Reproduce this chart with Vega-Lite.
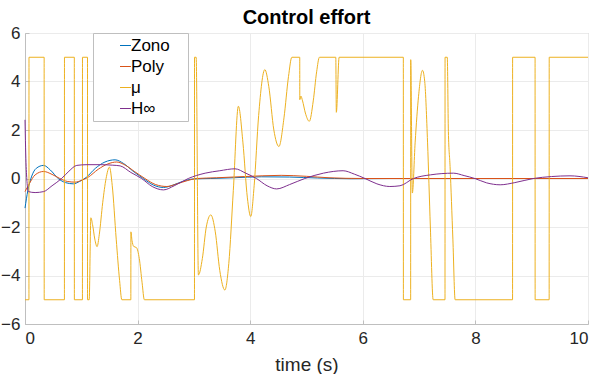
{
  "$schema": "https://vega.github.io/schema/vega-lite/v6.json",
  "width": 563,
  "height": 291,
  "autosize": {"type": "none"},
  "padding": {"left": 25, "top": 33, "right": 11, "bottom": 50},
  "background": "white",
  "title": {"text": "Control effort", "fontSize": 20, "font": "Liberation Sans", "fontWeight": "bold", "color": "#000000", "offset": -4},
  "config": {
    "font": "Liberation Sans",
    "view": {"stroke": "#BFBFBF", "strokeWidth": 1},
    "axis": {"labelFont": "Liberation Sans", "titleFont": "Liberation Sans", "labelColor": "#262626", "titleColor": "#262626", "domainColor": "#BFBFBF", "tickColor": "#BFBFBF", "gridColor": "#EBEBEB", "gridWidth": 1, "labelFontSize": 17, "titleFontSize": 19, "titleFontWeight": "normal", "tickSize": -4}
  },
  "data": {"values": [
    {"t":0,"u":-1.22,"s":"Zono"},{"t":0.05,"u":-0.5,"s":"Zono"},{"t":0.12,"u":0.1,"s":"Zono"},{"t":0.2,"u":0.42,"s":"Zono"},{"t":0.33,"u":0.54,"s":"Zono"},{"t":0.45,"u":0.35,"s":"Zono"},{"t":0.59,"u":0,"s":"Zono"},{"t":0.72,"u":-0.17,"s":"Zono"},{"t":0.86,"u":-0.22,"s":"Zono"},{"t":0.97,"u":-0.12,"s":"Zono"},{"t":1.09,"u":0.05,"s":"Zono"},{"t":1.25,"u":0.42,"s":"Zono"},{"t":1.42,"u":0.68,"s":"Zono"},{"t":1.6,"u":0.77,"s":"Zono"},{"t":1.75,"u":0.62,"s":"Zono"},{"t":1.92,"u":0.3,"s":"Zono"},{"t":2.1,"u":0,"s":"Zono"},{"t":2.28,"u":-0.27,"s":"Zono"},{"t":2.46,"u":-0.37,"s":"Zono"},{"t":2.62,"u":-0.28,"s":"Zono"},{"t":2.8,"u":-0.12,"s":"Zono"},{"t":2.99,"u":-0.02,"s":"Zono"},{"t":3.3,"u":0,"s":"Zono"},{"t":3.7,"u":0.03,"s":"Zono"},{"t":4.2,"u":0.07,"s":"Zono"},{"t":4.7,"u":0.06,"s":"Zono"},{"t":5.2,"u":0.02,"s":"Zono"},{"t":5.8,"u":-0.01,"s":"Zono"},{"t":6.5,"u":0,"s":"Zono"},{"t":8,"u":0,"s":"Zono"},{"t":10,"u":0,"s":"Zono"},
    {"t":0,"u":-0.54,"s":"Poly"},{"t":0.08,"u":-0.2,"s":"Poly"},{"t":0.18,"u":0.15,"s":"Poly"},{"t":0.33,"u":0.29,"s":"Poly"},{"t":0.48,"u":0.17,"s":"Poly"},{"t":0.62,"u":0,"s":"Poly"},{"t":0.75,"u":-0.12,"s":"Poly"},{"t":0.89,"u":-0.15,"s":"Poly"},{"t":1.0,"u":-0.08,"s":"Poly"},{"t":1.12,"u":0.05,"s":"Poly"},{"t":1.3,"u":0.38,"s":"Poly"},{"t":1.47,"u":0.6,"s":"Poly"},{"t":1.63,"u":0.68,"s":"Poly"},{"t":1.78,"u":0.55,"s":"Poly"},{"t":1.95,"u":0.28,"s":"Poly"},{"t":2.13,"u":0,"s":"Poly"},{"t":2.32,"u":-0.25,"s":"Poly"},{"t":2.52,"u":-0.33,"s":"Poly"},{"t":2.7,"u":-0.22,"s":"Poly"},{"t":2.88,"u":-0.09,"s":"Poly"},{"t":3.05,"u":0,"s":"Poly"},{"t":3.4,"u":0.03,"s":"Poly"},{"t":3.9,"u":0.08,"s":"Poly"},{"t":4.55,"u":0.13,"s":"Poly"},{"t":5.0,"u":0.09,"s":"Poly"},{"t":5.4,"u":0.03,"s":"Poly"},{"t":6,"u":0,"s":"Poly"},{"t":8,"u":0,"s":"Poly"},{"t":10,"u":0,"s":"Poly"},
    {"t":0,"u":-5,"s":"μ"},{"t":0.07,"u":-5,"s":"μ"},{"t":0.071,"u":5,"s":"μ"},{"t":0.34,"u":5,"s":"μ"},{"t":0.341,"u":-5,"s":"μ"},{"t":0.7,"u":-5,"s":"μ"},{"t":0.701,"u":5,"s":"μ"},{"t":0.876,"u":5,"s":"μ"},{"t":0.877,"u":-5,"s":"μ"},{"t":1.02,"u":-5,"s":"μ"},{"t":1.021,"u":5,"s":"μ"},{"t":1.11,"u":5,"s":"μ"},{"t":1.111,"u":-5,"s":"μ"},{"t":1.14,"u":-5,"s":"μ"},{"t":1.17,"u":-1.62,"s":"μ"},{"t":1.2,"u":-1.9,"s":"μ"},{"t":1.24,"u":-2.5,"s":"μ"},{"t":1.28,"u":-2.81,"s":"μ"},{"t":1.32,"u":-2.3,"s":"μ"},{"t":1.38,"u":-1.0,"s":"μ"},{"t":1.44,"u":0.0,"s":"μ"},{"t":1.5,"u":0.47,"s":"μ"},{"t":1.55,"u":-0.3,"s":"μ"},{"t":1.62,"u":-2.5,"s":"μ"},{"t":1.68,"u":-4.2,"s":"μ"},{"t":1.72,"u":-5,"s":"μ"},{"t":1.88,"u":-5,"s":"μ"},{"t":1.881,"u":-2.2,"s":"μ"},{"t":1.9,"u":-2.55,"s":"μ"},{"t":1.93,"u":-2.8,"s":"μ"},{"t":1.98,"u":-2.85,"s":"μ"},{"t":2.03,"u":-3.3,"s":"μ"},{"t":2.08,"u":-4.3,"s":"μ"},{"t":2.12,"u":-5,"s":"μ"},{"t":3.01,"u":-5,"s":"μ"},{"t":3.011,"u":5,"s":"μ"},{"t":3.04,"u":5,"s":"μ"},{"t":3.08,"u":-3.98,"s":"μ"},{"t":3.15,"u":-3.3,"s":"μ"},{"t":3.22,"u":-2.0,"s":"μ"},{"t":3.3,"u":-1.5,"s":"μ"},{"t":3.38,"u":-2.2,"s":"μ"},{"t":3.46,"u":-3.8,"s":"μ"},{"t":3.55,"u":-4.6,"s":"μ"},{"t":3.62,"u":-3.5,"s":"μ"},{"t":3.7,"u":-0.5,"s":"μ"},{"t":3.79,"u":2.98,"s":"μ"},{"t":3.87,"u":1.5,"s":"μ"},{"t":3.95,"u":-0.8,"s":"μ"},{"t":4.01,"u":-1.57,"s":"μ"},{"t":4.07,"u":-0.3,"s":"μ"},{"t":4.15,"u":2.6,"s":"μ"},{"t":4.26,"u":4.49,"s":"μ"},{"t":4.33,"u":3.8,"s":"μ"},{"t":4.42,"u":2.0,"s":"μ"},{"t":4.51,"u":1.32,"s":"μ"},{"t":4.6,"u":2.5,"s":"μ"},{"t":4.68,"u":4.2,"s":"μ"},{"t":4.74,"u":5,"s":"μ"},{"t":4.88,"u":5,"s":"μ"},{"t":4.881,"u":3.25,"s":"μ"},{"t":4.9,"u":3.4,"s":"μ"},{"t":4.93,"u":3.2,"s":"μ"},{"t":4.98,"u":2.7,"s":"μ"},{"t":5.05,"u":2.36,"s":"μ"},{"t":5.12,"u":3.2,"s":"μ"},{"t":5.18,"u":4.4,"s":"μ"},{"t":5.23,"u":5,"s":"μ"},{"t":5.52,"u":5,"s":"μ"},{"t":5.53,"u":2.73,"s":"μ"},{"t":5.58,"u":5,"s":"μ"},{"t":6.72,"u":5,"s":"μ"},{"t":6.721,"u":-5,"s":"μ"},{"t":6.85,"u":-5,"s":"μ"},{"t":6.851,"u":4.9,"s":"μ"},{"t":6.88,"u":-0.6,"s":"μ"},{"t":6.93,"u":1.5,"s":"μ"},{"t":6.99,"u":3.39,"s":"μ"},{"t":7.06,"u":4.46,"s":"μ"},{"t":7.1,"u":4.0,"s":"μ"},{"t":7.15,"u":1.5,"s":"μ"},{"t":7.2,"u":-2.0,"s":"μ"},{"t":7.25,"u":-5,"s":"μ"},{"t":7.46,"u":-5,"s":"μ"},{"t":7.461,"u":5,"s":"μ"},{"t":7.5,"u":5,"s":"μ"},{"t":7.52,"u":1.94,"s":"μ"},{"t":7.55,"u":0.5,"s":"μ"},{"t":7.6,"u":-2.5,"s":"μ"},{"t":7.64,"u":-5,"s":"μ"},{"t":8.66,"u":-5,"s":"μ"},{"t":8.661,"u":5,"s":"μ"},{"t":9.06,"u":5,"s":"μ"},{"t":9.061,"u":-5,"s":"μ"},{"t":9.31,"u":-5,"s":"μ"},{"t":9.311,"u":5,"s":"μ"},{"t":10,"u":5,"s":"μ"},
    {"t":0,"u":2.42,"s":"H∞"},{"t":0.02,"u":0.5,"s":"H∞"},{"t":0.06,"u":-0.54,"s":"H∞"},{"t":0.18,"u":-0.58,"s":"H∞"},{"t":0.33,"u":-0.54,"s":"H∞"},{"t":0.48,"u":-0.3,"s":"H∞"},{"t":0.65,"u":0,"s":"H∞"},{"t":0.78,"u":0.3,"s":"H∞"},{"t":0.92,"u":0.54,"s":"H∞"},{"t":1.1,"u":0.57,"s":"H∞"},{"t":1.33,"u":0.57,"s":"H∞"},{"t":1.55,"u":0.55,"s":"H∞"},{"t":1.69,"u":0.52,"s":"H∞"},{"t":1.88,"u":0.25,"s":"H∞"},{"t":2.07,"u":0,"s":"H∞"},{"t":2.26,"u":-0.33,"s":"H∞"},{"t":2.46,"u":-0.47,"s":"H∞"},{"t":2.65,"u":-0.3,"s":"H∞"},{"t":2.9,"u":0,"s":"H∞"},{"t":3.2,"u":0.22,"s":"H∞"},{"t":3.46,"u":0.32,"s":"H∞"},{"t":3.73,"u":0.4,"s":"H∞"},{"t":3.92,"u":0.22,"s":"H∞"},{"t":4.11,"u":0,"s":"H∞"},{"t":4.3,"u":-0.3,"s":"H∞"},{"t":4.47,"u":-0.43,"s":"H∞"},{"t":4.7,"u":-0.25,"s":"H∞"},{"t":4.97,"u":0,"s":"H∞"},{"t":5.3,"u":0.22,"s":"H∞"},{"t":5.65,"u":0.32,"s":"H∞"},{"t":5.85,"u":0.18,"s":"H∞"},{"t":6.04,"u":0,"s":"H∞"},{"t":6.25,"u":-0.22,"s":"H∞"},{"t":6.48,"u":-0.33,"s":"H∞"},{"t":6.66,"u":-0.3,"s":"H∞"},{"t":6.9,"u":0,"s":"H∞"},{"t":7.2,"u":0.15,"s":"H∞"},{"t":7.61,"u":0.22,"s":"H∞"},{"t":7.8,"u":0.12,"s":"H∞"},{"t":7.99,"u":0,"s":"H∞"},{"t":8.2,"u":-0.18,"s":"H∞"},{"t":8.44,"u":-0.26,"s":"H∞"},{"t":8.7,"u":-0.17,"s":"H∞"},{"t":9.03,"u":0,"s":"H∞"},{"t":9.35,"u":0.08,"s":"H∞"},{"t":9.68,"u":0.11,"s":"H∞"},{"t":10,"u":0.03,"s":"H∞"}
  ]},
  "mark": {"type": "line", "strokeWidth": 1, "interpolate": "monotone"},
  "encoding": {
    "x": {"field": "t", "type": "quantitative", "scale": {"domain": [0, 10], "nice": false}, "axis": {"values": [0, 2, 4, 6, 8, 10], "title": "time (s)", "labelPadding": 10, "titlePadding": 9}},
    "y": {"field": "u", "type": "quantitative", "scale": {"domain": [-6, 6], "nice": false}, "axis": {"values": [-6, -4, -2, 0, 2, 4, 6], "title": null, "labelPadding": 9}},
    "color": {"field": "s", "type": "nominal", "scale": {"domain": ["Zono", "Poly", "μ", "H∞"], "range": ["#0072BD", "#D95319", "#EDB120", "#7E2F8E"]},
      "legend": {"title": null, "orient": "none", "legendX": 68, "legendY": 0, "symbolType": "stroke", "symbolSize": 121, "symbolStrokeWidth": 1, "symbolOffset": 20, "labelOffset": -3, "labelFontSize": 17, "labelColor": "#000000", "labelFont": "Liberation Sans", "rowPadding": 3, "padding": 4, "strokeColor": "#BFBFBF", "fillColor": "white", "labelExpr": "datum.label + '\u00a0\u00a0\u00a0\u200d'"}}
  }
}
